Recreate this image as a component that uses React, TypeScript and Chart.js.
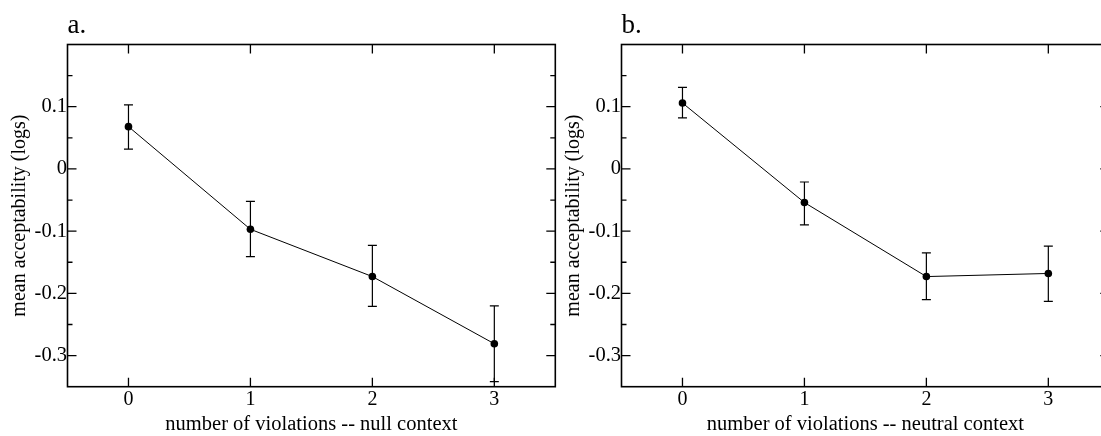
import React, { useEffect, useRef } from 'react';
import { Chart, registerables } from 'chart.js';

Chart.register(...registerables);

// ---- data ----
const violations = [0, 1, 2, 3];
const nullMeans = [0.068, -0.097, -0.173, -0.281];
const nullErrHigh = [0.103, -0.052, -0.123, -0.22];
const nullErrLow = [0.032, -0.141, -0.221, -0.342];
const neutralMeans = [0.106, -0.054, -0.173, -0.168];
const neutralErrHigh = [0.131, -0.021, -0.135, -0.124];
const neutralErrLow = [0.082, -0.09, -0.21, -0.213];
const xTicks = [0, 1, 2, 3];
const yMajorTicks = [-0.3, -0.2, -0.1, 0, 0.1];
const yMinorTicks = [-0.25, -0.15, -0.05, 0.05, 0.15];
const yAxisTitle = 'mean acceptability (logs)';
const xTitleA = 'number of violations -- null context';
const xTitleB = 'number of violations -- neutral context';

const FONT = "'Liberation Serif', 'Times New Roman', serif";
const CANVAS_W = 580;
const CANVAS_H = 436;

function fmtY(v: number): string {
  if (Math.abs(v) < 1e-9) return '0';
  return v.toFixed(1);
}

type PanelProps = {
  label: string;
  xTitle: string;
  means: number[];
  errHigh: number[];
  errLow: number[];
  left: number;
};

function Panel({ label, xTitle, means, errHigh, errLow, left }: PanelProps) {
  const ref = useRef<HTMLCanvasElement | null>(null);

  useEffect(() => {
    if (!ref.current) return;
    const framePlugin = {
      id: 'frame-' + label,
      beforeDatasetsDraw(chart: any) {
        const ctx = chart.ctx;
        const xs = chart.scales.x;
        const ys = chart.scales.y;
        ctx.save();
        ctx.strokeStyle = '#000';
        ctx.lineWidth = 1.2;
        violations.forEach((v, i) => {
          const px = xs.getPixelForValue(v);
          const hi = ys.getPixelForValue(errHigh[i]);
          const lo = ys.getPixelForValue(errLow[i]);
          ctx.beginPath();
          ctx.moveTo(px, hi);
          ctx.lineTo(px, lo);
          ctx.moveTo(px - 4.5, hi);
          ctx.lineTo(px + 4.5, hi);
          ctx.moveTo(px - 4.5, lo);
          ctx.lineTo(px + 4.5, lo);
          ctx.stroke();
        });
        ctx.restore();
      },
      afterDraw(chart: any) {
        const ctx = chart.ctx;
        const { left: l, right: r, top: t, bottom: b } = chart.chartArea;
        const xs = chart.scales.x;
        const ys = chart.scales.y;
        ctx.save();
        ctx.strokeStyle = '#000';
        ctx.lineWidth = 1.6;
        ctx.strokeRect(l, t, r - l, b - t);
        ctx.lineWidth = 1.3;
        ctx.beginPath();
        xTicks.forEach((v) => {
          const px = xs.getPixelForValue(v);
          ctx.moveTo(px, b);
          ctx.lineTo(px, b - 9);
          ctx.moveTo(px, t);
          ctx.lineTo(px, t + 9);
        });
        yMajorTicks.forEach((v) => {
          const py = ys.getPixelForValue(v);
          ctx.moveTo(l, py);
          ctx.lineTo(l + 9, py);
          ctx.moveTo(r, py);
          ctx.lineTo(r - 9, py);
        });
        yMinorTicks.forEach((v) => {
          const py = ys.getPixelForValue(v);
          ctx.moveTo(l, py);
          ctx.lineTo(l + 5, py);
          ctx.moveTo(r, py);
          ctx.lineTo(r - 5, py);
        });
        ctx.stroke();
        ctx.fillStyle = '#000';
        ctx.font = `27px ${FONT}`;
        ctx.textBaseline = 'alphabetic';
        ctx.textAlign = 'left';
        ctx.fillText(label, l, 33);
        ctx.restore();
      },
    };

    const chart = new Chart(ref.current, {
      type: 'line',
      data: {
        datasets: [
          {
            data: violations.map((v, i) => ({ x: v, y: means[i] })),
            borderColor: '#000',
            borderWidth: 1,
            pointRadius: 3.8,
            pointBackgroundColor: '#000',
            pointBorderColor: '#000',
            pointBorderWidth: 0,
            tension: 0,
            fill: false,
          },
        ],
      },
      options: {
        responsive: false,
        animation: false,
        layout: { padding: { top: 44.5, right: 24.7, left: 0, bottom: 0 } },
        plugins: { legend: { display: false }, tooltip: { enabled: false }, title: { display: false } },
        scales: {
          x: {
            type: 'linear',
            min: -0.5,
            max: 3.5,
            afterBuildTicks: (s: any) => {
              s.ticks = xTicks.map((v) => ({ value: v }));
            },
            afterFit: (s: any) => {
              s.height = 49.3;
            },
            grid: { display: false, drawTicks: false },
            border: { display: false },
            ticks: {
              font: { family: FONT, size: 20 },
              color: '#000',
              padding: 1,
              maxRotation: 0,
              autoSkip: false,
              callback: (v: any) => String(v),
            },
            title: {
              display: true,
              text: xTitle,
              font: { family: FONT, size: 20.5, lineHeight: 1 },
              color: '#000',
              padding: { top: 0, bottom: 1 },
            },
          },
          y: {
            type: 'linear',
            min: -0.35,
            max: 0.2,
            afterBuildTicks: (s: any) => {
              s.ticks = yMajorTicks.map((v) => ({ value: v }));
            },
            afterFit: (s: any) => {
              s.width = 67.5;
            },
            grid: { display: false, drawTicks: false },
            border: { display: false },
            ticks: {
              font: { family: FONT, size: 20.5 },
              color: '#000',
              padding: 0.5,
              autoSkip: false,
              callback: (v: any) => fmtY(Number(v)),
            },
            title: {
              display: true,
              text: yAxisTitle,
              font: { family: FONT, size: 20, lineHeight: 1 },
              color: '#000',
              padding: { top: 10, bottom: 0 },
            },
          },
        },
      },
      plugins: [framePlugin],
    } as any);
    return () => chart.destroy();
  }, [label, xTitle, means, errHigh, errLow]);

  return (
    <canvas
      ref={ref}
      width={CANVAS_W}
      height={CANVAS_H}
      style={{ position: 'absolute', left, top: 0, width: CANVAS_W, height: CANVAS_H }}
    />
  );
}

export default function App() {
  return (
    <div
      style={{
        position: 'fixed',
        left: 0,
        top: 0,
        width: 1101,
        height: 436,
        overflow: 'hidden',
        background: '#fff',
      }}
    >
      <Panel label="a." xTitle={xTitleA} means={nullMeans} errHigh={nullErrHigh} errLow={nullErrLow} left={0} />
      <Panel
        label="b."
        xTitle={xTitleB}
        means={neutralMeans}
        errHigh={neutralErrHigh}
        errLow={neutralErrLow}
        left={554}
      />
    </div>
  );
}
